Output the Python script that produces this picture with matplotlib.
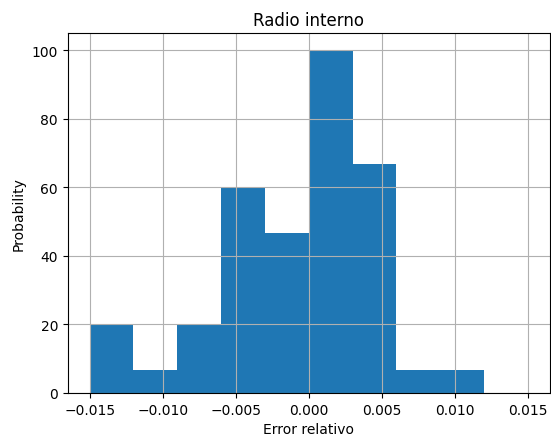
import numpy as np
import matplotlib
matplotlib.use("Agg")
import matplotlib.pyplot as plt

# Histogram of the relative error of the inner radius (50 samples, 10 bins)
bin_edges = [-0.015, -0.012, -0.009, -0.006, -0.003, 0.0, 0.003, 0.006, 0.009, 0.012, 0.015]
bin_counts = [3, 1, 3, 9, 7, 15, 10, 1, 1, 0]

edges = np.array(bin_edges)
centers = (edges[:-1] + edges[1:]) / 2

fig = plt.figure(figsize=(5.51, 4.35), dpi=100)
ax = fig.add_axes([0.123, 0.0943, 0.8745, 0.8275])
ax.hist(centers, bins=edges, weights=bin_counts, density=True, color="#1f77b4")
ax.grid(True)
ax.set_title("Radio interno")
ax.set_xlabel("Error relativo")
ax.set_ylabel("Probability")

fig.savefig("out.png", dpi=100)
